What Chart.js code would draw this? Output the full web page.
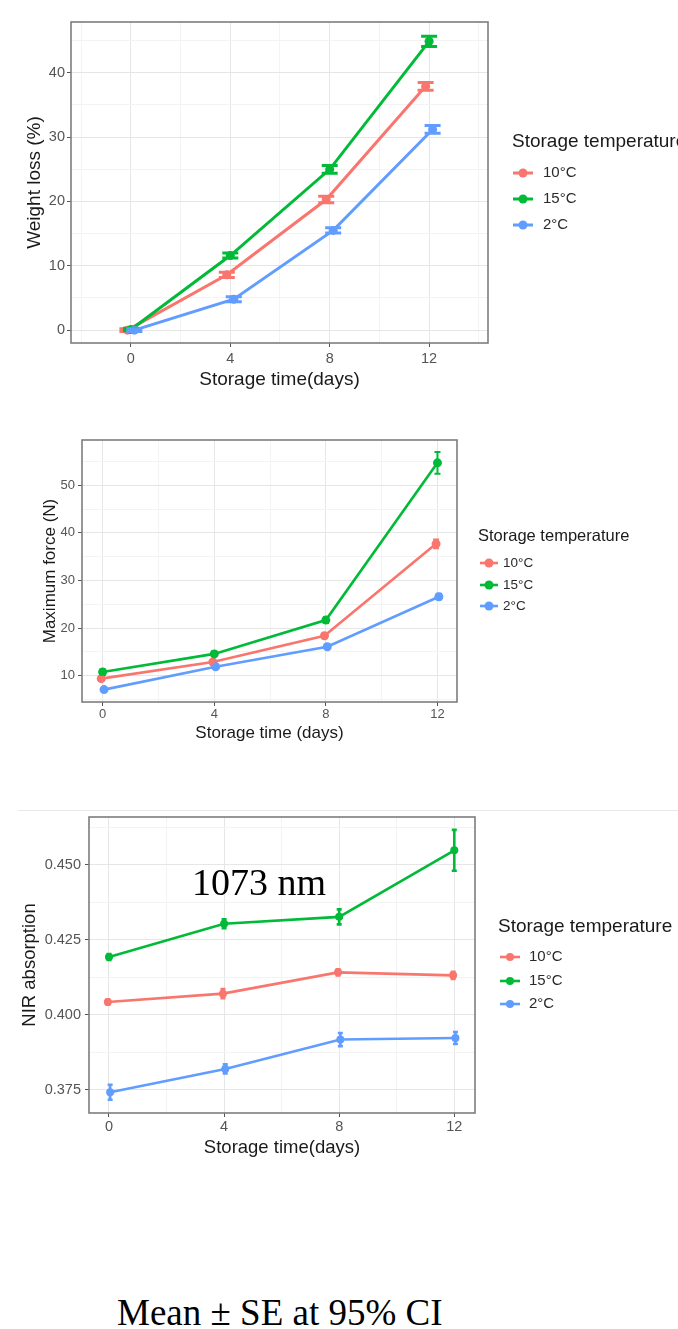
<!DOCTYPE html>
<html>
<head>
<meta charset="utf-8">
<title>Storage temperature panels</title>
<script src="https://cdn.jsdelivr.net/npm/chart.js@4.4.1/dist/chart.umd.min.js"></script>
<style>
  html, body { margin: 0; padding: 0; background: #fff; }
  body { width: 678px; height: 1329px; position: relative; overflow: hidden; }
  canvas.panel { position: absolute; left: 0; }
  .rule { position: absolute; left: 18px; top: 810px; width: 660px; height: 1px; background: #e9e9e9; z-index: 2; }
  .serif { position: absolute; font-family: 'Liberation Serif', 'Times New Roman', serif; color: #000; line-height: 1; white-space: nowrap; z-index: 3; }
</style>
</head>
<body>
<canvas id="weightChart" class="panel" style="top:0px" width="678" height="400"></canvas>
<canvas id="forceChart" class="panel" style="top:420px" width="678" height="345"></canvas>
<div class="rule"></div>
<canvas id="nirChart" class="panel" style="top:795px" width="678" height="372"></canvas>
<div class="serif" style="left:192px; top:863px; font-size:38px;">1073 nm</div>
<div class="serif" style="left:117px; top:1294px; font-size:37px;">Mean ± SE at 95% CI</div>

<script>
// ---- data ----
const storageDays = [0, 4, 8, 12];
const temperatureLabels = ['10°C', '15°C', '2°C'];

// weight loss (%)
const weightLoss10 = [0.0, 8.6, 20.3, 37.9];
const weightLoss15 = [0.1, 11.6, 25.0, 44.9];
const weightLoss2 = [0.0, 4.8, 15.5, 31.2];
const weightLossSe10 = [0.2, 0.4, 0.5, 0.6];
const weightLossSe15 = [0.2, 0.4, 0.6, 0.8];
const weightLossSe2 = [0.2, 0.4, 0.4, 0.6];

// maximum force (N)
const force10 = [9.4, 12.9, 18.4, 37.7];
const force15 = [10.8, 14.6, 21.7, 54.7];
const force2 = [7.1, 11.9, 16.1, 26.6];
const forceSe10 = [0.4, 0.4, 0.5, 0.9];
const forceSe15 = [0.5, 0.5, 0.6, 2.3];
const forceSe2 = [0.3, 0.4, 0.5, 0.6];

// NIR absorption at 1073 nm
const nir10 = [0.4042, 0.4070, 0.4141, 0.4131];
const nir15 = [0.4192, 0.4303, 0.4326, 0.4548];
const nir2 = [0.3741, 0.3819, 0.3917, 0.3922];
const nirSe10 = [0.0008, 0.0015, 0.0010, 0.0012];
const nirSe15 = [0.0010, 0.0015, 0.0025, 0.0068];
const nirSe2 = [0.0025, 0.0015, 0.0022, 0.0020];

// tick labels
const dayTicks = [0, 4, 8, 12];
const weightTicks = [0, 10, 20, 30, 40];
const forceTicks = [10, 20, 30, 40, 50];
const nirTicks = [0.375, 0.400, 0.425, 0.450];

// ---- styling ----
const temperatureColors = ['#F8766D', '#00BA38', '#619CFF'];
const SANS = "'Liberation Sans', Arial, Helvetica, sans-serif";
const TICK_LEN = 4;

// minor grid lines halfway between the majors, kept inside [min, max]
function withMinor(major, min, max) {
  const step = major[1] - major[0];
  const out = major.map(v => ({ value: v, isMinor: false }));
  for (let v = major[0] - step / 2; v <= max + 1e-9; v += step) {
    if (v >= min - 1e-9) out.push({ value: v, isMinor: true });
  }
  return out.sort((a, b) => a.value - b.value);
}

// error bars drawn on top of lines and points
const errorBars = {
  id: 'errorBars',
  afterDatasetsDraw(chart, args, opts) {
    const { ctx, chartArea: a } = chart;
    const y = chart.scales.y;
    ctx.save();
    ctx.beginPath();
    ctx.rect(a.left, a.top, a.right - a.left, a.bottom - a.top);
    ctx.clip();
    ctx.lineCap = 'butt';
    chart.data.datasets.forEach((ds, i) => {
      const meta = chart.getDatasetMeta(i);
      ctx.strokeStyle = ds.borderColor;
      ctx.lineWidth = opts.width;
      meta.data.forEach((pt, j) => {
        const v = ds.data[j].y, e = ds.errors[j];
        const top = y.getPixelForValue(v + e);
        const bot = y.getPixelForValue(v - e);
        ctx.beginPath();
        ctx.moveTo(pt.x, top);
        ctx.lineTo(pt.x, bot);
        if (opts.cap > 0) {
          ctx.moveTo(pt.x - opts.cap, top);
          ctx.lineTo(pt.x + opts.cap, top);
          ctx.moveTo(pt.x - opts.cap, bot);
          ctx.lineTo(pt.x + opts.cap, bot);
        }
        ctx.stroke();
      });
    });
    ctx.restore();
  }
};

// panel border + ggplot style legend at the right
const panelFrame = {
  id: 'panelFrame',
  afterDraw(chart, args, opts) {
    const { ctx, chartArea: a } = chart;
    ctx.save();
    ctx.strokeStyle = '#7d7d7d';
    ctx.lineWidth = 1.6;
    ctx.strokeRect(a.left, a.top, a.right - a.left, a.bottom - a.top);

    const L = opts.legend, off = opts.canvasTop;
    ctx.textBaseline = 'middle';
    ctx.textAlign = 'left';
    ctx.fillStyle = '#1a1a1a';
    ctx.font = L.titleSize + 'px ' + SANS;
    ctx.fillText('Storage temperature', L.titleX, L.titleY - off);
    ctx.font = L.itemSize + 'px ' + SANS;
    chart.data.datasets.forEach((ds, i) => {
      const yy = L.itemY[i] - off;
      ctx.strokeStyle = ds.borderColor;
      ctx.lineWidth = ds.borderWidth;
      ctx.beginPath();
      ctx.moveTo(L.symX - L.symLen / 2, yy);
      ctx.lineTo(L.symX + L.symLen / 2, yy);
      ctx.stroke();
      ctx.fillStyle = ds.borderColor;
      ctx.beginPath();
      ctx.arc(L.symX, yy, ds.pointRadius, 0, Math.PI * 2);
      ctx.fill();
      ctx.fillStyle = '#2a2a2a';
      ctx.fillText(ds.label, L.textX, yy);
    });
    ctx.restore();
  }
};

function makePanel(id, p, means, errs, xTitle, yTitle) {
  const canvas = document.getElementById(id);
  const H = canvas.height;
  const tickFont = { family: SANS, size: p.tickSize };
  const titleFont = { family: SANS, size: p.titleSize };
  const lh = p.titleSize * 1.2;

  const datasets = means.map((vals, i) => ({
    label: temperatureLabels[i],
    data: storageDays.map((d, j) => ({ x: d + p.dodge[i], y: vals[j] })),
    errors: errs[i],
    borderColor: temperatureColors[i],
    backgroundColor: temperatureColors[i],
    pointBackgroundColor: temperatureColors[i],
    borderWidth: p.lineWidth,
    pointRadius: p.pointRadius,
    pointBorderWidth: 0,
    pointHoverRadius: p.pointRadius,
    tension: 0,
    order: 2 - i
  }));

  const gridColor = ctx => ctx.tick && ctx.tick.isMinor ? '#f3f3f3' : '#e6e6e6';
  const tickColor = ctx => ctx.tick && ctx.tick.isMinor ? 'rgba(0,0,0,0)' : '#555';
  const labelOf = fmt => (value, index, ticks) => ticks[index].isMinor ? '' : fmt(value);

  return new Chart(canvas, {
    type: 'line',
    data: { datasets },
    options: {
      responsive: false,
      animation: false,
      events: [],
      layout: { padding: { left: 0, bottom: 0, top: p.box.t - p.canvasTop, right: 678 - p.box.r } },
      plugins: {
        legend: { display: false },
        tooltip: { enabled: false },
        errorBars: { width: p.errWidth, cap: p.cap },
        panelFrame: { canvasTop: p.canvasTop, legend: p.legend }
      },
      scales: {
        x: {
          type: 'linear',
          min: p.xMin, max: p.xMax,
          afterBuildTicks: s => { s.ticks = withMinor(dayTicks, p.xMin, p.xMax); },
          afterFit: s => { s.height = H - (p.box.b - p.canvasTop); },
          border: { display: false },
          grid: { color: gridColor, lineWidth: 1, tickColor, tickLength: TICK_LEN, drawTicks: true },
          ticks: {
            autoSkip: false, maxRotation: 0, color: '#555', font: tickFont,
            padding: p.xTickCenter - p.box.b - TICK_LEN - p.tickSize * 0.6,
            callback: labelOf(v => String(v))
          },
          title: {
            display: true, text: xTitle, color: '#1a1a1a', font: titleFont,
            padding: { top: 0, bottom: p.canvasTop + H - p.xTitleCenter - lh / 2 }
          }
        },
        y: {
          type: 'linear',
          min: p.yMin, max: p.yMax,
          afterBuildTicks: s => { s.ticks = withMinor(p.yTicks, p.yMin, p.yMax); },
          afterFit: s => { s.width = p.box.l; },
          border: { display: false },
          grid: { color: gridColor, lineWidth: 1, tickColor, tickLength: TICK_LEN, drawTicks: true },
          ticks: {
            autoSkip: false, color: '#555', font: tickFont,
            padding: p.box.l - TICK_LEN - p.yTickRight,
            callback: labelOf(p.yFormat)
          },
          title: {
            display: true, text: yTitle, color: '#1a1a1a', font: titleFont,
            padding: { top: p.yTitleCenter - lh / 2, bottom: 0 }
          }
        }
      }
    },
    plugins: [errorBars, panelFrame]
  });
}

const weightPanel = {
  canvasTop: 0, box: { l: 71, t: 22, r: 488, b: 343 },
  xMin: -2.41, xMax: 14.37, yMin: -2.0, yMax: 47.9, yTicks: weightTicks, yFormat: v => String(v),
  tickSize: 14.5, titleSize: 19, xTickCenter: 359, xTitleCenter: 380, yTitleCenter: 35, yTickRight: 65,
  dodge: [-0.14, 0, 0.14], lineWidth: 3, pointRadius: 4.5, errWidth: 3, cap: 8,
  legend: { titleX: 512, titleY: 142, titleSize: 19, itemY: [173, 199, 225], itemSize: 15, symX: 523, symLen: 20, textX: 543 }
};

const forcePanel = {
  canvasTop: 420, box: { l: 82, t: 440, r: 457, b: 702 },
  xMin: -0.74, xMax: 12.7, yMin: 4.5, yMax: 59.5, yTicks: forceTicks, yFormat: v => String(v),
  tickSize: 13, titleSize: 17, xTickCenter: 714, xTitleCenter: 733, yTitleCenter: 50, yTickRight: 75,
  dodge: [-0.05, 0, 0.05], lineWidth: 2.6, pointRadius: 4.5, errWidth: 2, cap: 3,
  legend: { titleX: 478, titleY: 536, titleSize: 16.5, itemY: [563, 585, 606], itemSize: 13.5, symX: 489, symLen: 18, textX: 503 }
};

const nirPanel = {
  canvasTop: 795, box: { l: 89, t: 817, r: 475, b: 1113 },
  xMin: -0.695, xMax: 12.72, yMin: 0.3672, yMax: 0.4659, yTicks: nirTicks, yFormat: v => v.toFixed(3),
  tickSize: 14.5, titleSize: 18.5, xTickCenter: 1127, xTitleCenter: 1148, yTitleCenter: 30, yTickRight: 81,
  dodge: [-0.04, 0, 0.04], lineWidth: 2.6, pointRadius: 4, errWidth: 2.6, cap: 2.5,
  legend: { titleX: 498, titleY: 927, titleSize: 19, itemY: [957, 981, 1004], itemSize: 15, symX: 510, symLen: 20, textX: 529 }
};

makePanel('weightChart', weightPanel,
  [weightLoss10, weightLoss15, weightLoss2], [weightLossSe10, weightLossSe15, weightLossSe2],
  'Storage time(days)', 'Weight loss (%)');
makePanel('forceChart', forcePanel,
  [force10, force15, force2], [forceSe10, forceSe15, forceSe2],
  'Storage time (days)', 'Maximum force (N)');
makePanel('nirChart', nirPanel,
  [nir10, nir15, nir2], [nirSe10, nirSe15, nirSe2],
  'Storage time(days)', 'NIR absorption');
</script>
</body>
</html>
